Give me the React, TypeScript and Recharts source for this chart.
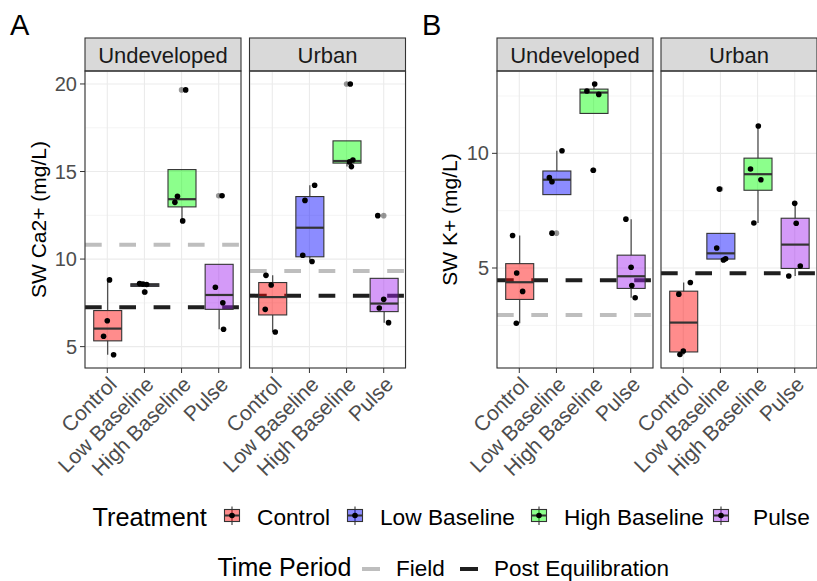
import React from 'react';
import { ComposedChart, Bar, Scatter, XAxis, YAxis, CartesianGrid, ReferenceLine } from 'recharts';

const FONT = "'Liberation Sans', Arial, Helvetica, sans-serif";

const treatments = ['Control', 'Low Baseline', 'High Baseline', 'Pulse'];
const treatmentColors = ['#FF0000', '#0000FF', '#00FF00', '#A020F0'];
const facetNames = ['Undeveloped', 'Urban'];

// Panel A: SW Ca2+ (mg/L)
const caDomain = [3.78, 20.74];
const caMajor = [5, 10, 15, 20];
const caMinor = [7.5, 12.5, 17.5];
// box stats: [lower whisker, q1, median, q3, upper whisker]
const caUndevBoxes = [
  [4.54, 5.33, 6.03, 7.06, 8.81],
  [8.44, 8.44, 8.53, 8.59, 8.6],
  [12.18, 12.98, 13.42, 15.11, 15.11],
  [5.99, 7.13, 7.95, 9.7, 9.7],
];
// points: [treatment index, jitter offset, value]
const caUndevPoints = [
  [0, 0.06, 8.81], [0, 0.0, 6.48], [0, -0.1, 5.59], [0, 0.17, 4.54],
  [1, -0.13, 8.6], [1, -0.04, 8.57], [1, 0.06, 8.55], [1, 0.01, 8.12],
  [2, 0.03, 12.18], [2, -0.18, 13.24], [2, -0.11, 13.59], [2, 0.11, 19.66],
  [3, -0.09, 8.39], [3, 0.11, 7.51], [3, 0.13, 5.99], [3, 0.09, 13.62],
];
const caUndevOutliers = [[1, 8.12], [2, 19.66], [3, 13.62]];
const caUndevField = 10.82;
const caUndevPost = 7.25;

const caUrbanBoxes = [
  [5.84, 6.81, 7.83, 8.66, 9.07],
  [9.86, 10.13, 11.79, 13.57, 14.22],
  [15.28, 15.48, 15.6, 16.75, 16.75],
  [6.37, 7.0, 7.46, 8.9, 8.9],
];
const caUrbanPoints = [
  [0, -0.17, 9.07], [0, -0.03, 8.52], [0, -0.19, 7.13], [0, 0.08, 5.84],
  [1, -0.12, 13.35], [1, 0.14, 14.22], [1, -0.18, 10.22], [1, 0.07, 9.86],
  [2, 0.17, 15.66], [2, 0.08, 15.55], [2, 0.13, 15.28], [2, 0.1, 20.0],
  [3, 0.0, 7.7], [3, -0.12, 7.21], [3, 0.13, 6.37], [3, -0.16, 12.48],
];
const caUrbanOutliers = [[2, 20.0], [3, 12.48]];
const caUrbanField = 9.32;
const caUrbanPost = 7.91;

// Panel B: SW K+ (mg/L)
const kDomain = [0.64, 13.59];
const kMajor = [5, 10];
const kMinor = [2.5, 7.5, 12.5];
const kUndevBoxes = [
  [2.59, 3.63, 4.38, 5.19, 6.42],
  [8.2, 8.2, 8.85, 9.23, 10.11],
  [11.74, 11.74, 12.65, 12.8, 13.02],
  [3.7, 4.11, 4.64, 5.56, 7.13],
];
const kUndevPoints = [
  [0, -0.18, 6.42], [0, -0.07, 4.78], [0, 0.09, 3.98], [0, -0.08, 2.59],
  [1, 0.15, 10.11], [1, -0.19, 8.94], [1, -0.12, 8.76], [1, -0.12, 6.52],
  [2, 0.03, 13.02], [2, -0.18, 12.72], [2, 0.14, 12.57], [2, -0.01, 9.26],
  [3, -0.13, 7.13], [3, 0.01, 5.03], [3, 0.03, 4.24], [3, 0.12, 3.7],
];
const kUndevOutliers = [[1, 6.52], [2, 9.26]];
const kUndevField = 2.95;
const kUndevPost = 4.47;

const kUrbanBoxes = [
  [1.23, 1.34, 2.62, 3.99, 4.37],
  [5.39, 5.39, 5.64, 6.51, 6.51],
  [6.96, 8.39, 9.09, 9.79, 11.19],
  [4.65, 4.98, 6.02, 7.17, 7.82],
];
const kUrbanPoints = [
  [0, 0.19, 4.37], [0, -0.12, 3.86], [0, 0.0, 1.38], [0, -0.09, 1.23],
  [1, -0.03, 8.44], [1, -0.1, 5.87], [1, 0.08, 5.35], [1, 0.14, 5.4],
  [2, 0.02, 11.19], [2, -0.19, 9.32], [2, 0.09, 8.85], [2, -0.1, 6.96],
  [3, 0.0, 7.82], [3, 0.04, 6.95], [3, 0.15, 5.09], [3, -0.16, 4.65],
];
const kUrbanOutliers = [[1, 8.44]];
const kUrbanField: number | null = null;
const kUrbanPost = 4.77;

const PLOT_TOP = 71;
const PLOT_H = 297;
const FACET_W = 156;
const LEFT_PAD = 112;
const RIGHT_PAD = 10;
const MARGIN_TOP = 10;
const X_AXIS_H = 30;
const MARGIN_BOTTOM = 95;
const Y_W = 60;
const X_DOMAIN = [0.4, 4.6];

const facetSpecs = [
  { left: 85, name: facetNames[0], boxes: caUndevBoxes, points: caUndevPoints, outliers: caUndevOutliers, field: caUndevField, post: caUndevPost, domain: caDomain, major: caMajor, minor: caMinor, showY: true },
  { left: 249.5, name: facetNames[1], boxes: caUrbanBoxes, points: caUrbanPoints, outliers: caUrbanOutliers, field: caUrbanField, post: caUrbanPost, domain: caDomain, major: caMajor, minor: caMinor, showY: false },
  { left: 497, name: facetNames[0], boxes: kUndevBoxes, points: kUndevPoints, outliers: kUndevOutliers, field: kUndevField, post: kUndevPost, domain: kDomain, major: kMajor, minor: kMinor, showY: true },
  { left: 661, name: facetNames[1], boxes: kUrbanBoxes, points: kUrbanPoints, outliers: kUrbanOutliers, field: kUrbanField, post: kUrbanPost, domain: kDomain, major: kMajor, minor: kMinor, showY: false },
];

const BoxShape = (props: any) => {
  const { x, y, width, height } = props;
  const p = props.payload || props;
  if (x == null || y == null || p == null) return null;
  const { lo, hi, q1, med, q3, color } = p;
  const top = Math.min(y, y + height);
  const bot = Math.max(y, y + height);
  const k = (bot - top) / (hi - lo);
  const py = (v: number) => bot - (v - lo) * k;
  const cx = x + width / 2;
  const hw = width / 2;
  return (
    <g>
      <line x1={cx} x2={cx} y1={py(hi)} y2={py(q3)} stroke="#333333" strokeWidth={1.1} />
      <line x1={cx} x2={cx} y1={py(q1)} y2={py(lo)} stroke="#333333" strokeWidth={1.1} />
      <rect x={cx - hw} y={py(q3)} width={hw * 2} height={Math.max(0, py(q1) - py(q3))} fill={color} fillOpacity={0.45} stroke="#333333" strokeWidth={1.1} />
      <line x1={cx - hw} x2={cx + hw} y1={py(med)} y2={py(med)} stroke="#333333" strokeWidth={2.2} />
    </g>
  );
};

const OutlierDot = (props: any) => {
  if (props.cx == null) return null;
  return <circle cx={props.cx} cy={props.cy} r={2.8} fill="#000000" fillOpacity={0.4} />;
};

const JitterDot = (props: any) => {
  if (props.cx == null) return null;
  return <circle cx={props.cx} cy={props.cy} r={2.8} fill="#000000" />;
};

const XTick = (props: any) => {
  const { x, y, payload } = props;
  const label = treatments[Math.round(payload.value) - 1];
  return (
    <text x={x} y={y} transform={`rotate(-45 ${x} ${y})`} textAnchor="end" dy="0.72em" fill="#4D4D4D" fontSize={21} fontFamily={FONT}>
      {label}
    </text>
  );
};

function Facet({ spec }: { spec: any }) {
  const rows = treatments.map((t, i) => {
    const [lo, q1, med, q3, hi] = spec.boxes[i];
    return { cat: t, x: i + 1, range: [lo, hi], lo, q1, med, q3, hi, color: treatmentColors[i] };
  });
  const pts = spec.points.map(([t, dx, v]: number[]) => ({ x: t + 1 + dx, y: v }));
  const outs = spec.outliers.map(([t, v]: number[]) => ({ x: t + 1, y: v }));
  const yW = spec.showY ? Y_W : 0;
  const width = LEFT_PAD + FACET_W + RIGHT_PAD;
  const height = MARGIN_TOP + PLOT_H + X_AXIS_H + MARGIN_BOTTOM;
  const bandPad = (FACET_W * 0.1) / 4.2;
  const pos = { position: 'absolute' as const, left: spec.left - LEFT_PAD, top: PLOT_TOP - MARGIN_TOP };
  return (
    <>
      {/* background layer: grid, axes, reference lines */}
      <div style={pos}>
        <ComposedChart
          width={width}
          height={height}
          data={rows}
          margin={{ top: MARGIN_TOP, right: RIGHT_PAD, bottom: MARGIN_BOTTOM, left: LEFT_PAD - yW }}
        >
          <CartesianGrid stroke="#EBEBEB" strokeWidth={1.1} />
          <XAxis
            xAxisId={0}
            type="number"
            dataKey="x"
            domain={X_DOMAIN}
            allowDataOverflow
            ticks={[1, 2, 3, 4]}
            interval={0}
            height={X_AXIS_H}
            axisLine={false}
            tickSize={5}
            tickMargin={2}
            tickLine={{ stroke: '#333333' }}
            tick={<XTick />}
          />
          <YAxis
            yAxisId={0}
            type="number"
            dataKey="y"
            domain={spec.domain}
            allowDataOverflow
            ticks={spec.major}
            interval={0}
            width={yW}
            hide={!spec.showY}
            axisLine={false}
            tickSize={5}
            tickMargin={3}
            tickLine={{ stroke: '#333333' }}
            tick={{ fill: '#4D4D4D', fontSize: 20, fontFamily: FONT }}
          />
          {spec.minor.map((v: number) => (
            <ReferenceLine key={'m' + v} y={v} stroke="#EBEBEB" strokeWidth={0.55} />
          ))}
          {spec.field != null && (
            <ReferenceLine y={spec.field} stroke="#BEBEBE" strokeWidth={4} strokeDasharray="16.7 17.6" />
          )}
          <ReferenceLine y={spec.post} stroke="#1F1F1F" strokeWidth={4} strokeDasharray="16.7 17.6" />
        </ComposedChart>
      </div>
      {/* foreground layer: boxes and points */}
      <div style={pos}>
        <ComposedChart
          width={width}
          height={height}
          data={rows}
          margin={{ top: MARGIN_TOP, right: RIGHT_PAD, bottom: MARGIN_BOTTOM + X_AXIS_H, left: LEFT_PAD }}
        >
          <XAxis xAxisId={0} type="number" dataKey="x" domain={X_DOMAIN} allowDataOverflow hide />
          <XAxis xAxisId="cat" type="category" dataKey="cat" hide padding={{ left: bandPad, right: bandPad }} />
          <YAxis yAxisId={0} type="number" dataKey="y" domain={spec.domain} allowDataOverflow hide />
          <Bar xAxisId="cat" dataKey="range" barSize={28} shape={BoxShape} isAnimationActive={false} />
          <Scatter xAxisId={0} data={outs} dataKey="y" shape={OutlierDot} isAnimationActive={false} />
          <Scatter xAxisId={0} data={pts} dataKey="y" shape={JitterDot} isAnimationActive={false} />
        </ComposedChart>
      </div>
    </>
  );
}

const legendTreatKeys = [232, 355, 539, 721];
const legendTreatLabels = [257, 380, 564, 753];
const legendLineKeys = [[362, 380], [460, 478]];
const timePeriods = ['Field', 'Post Equilibration'];
const timeColors = ['#BEBEBE', '#1F1F1F'];
const legendTimeLabels = [396, 494];

function Decor() {
  return (
    <svg width={817} height={581} style={{ position: 'absolute', left: 0, top: 0, pointerEvents: 'none' }} fontFamily={FONT}>
      {facetSpecs.map((s, i) => (
        <g key={i}>
          <rect x={s.left} y={38} width={FACET_W} height={PLOT_TOP - 38} fill="#D9D9D9" stroke="#333333" strokeWidth={1.1} />
          <text x={s.left + FACET_W / 2} y={62.5} textAnchor="middle" fontSize={22} fill="#1A1A1A">{s.name}</text>
          <rect x={s.left} y={PLOT_TOP} width={FACET_W} height={PLOT_H} fill="none" stroke="#333333" strokeWidth={1.1} />
        </g>
      ))}
      <text x={10} y={35} fontSize={29} fill="#000">A</text>
      <text x={422} y={34.5} fontSize={29} fill="#000">B</text>
      <text transform="translate(46 219.5) rotate(-90)" textAnchor="middle" fontSize={21} fill="#000">SW Ca2+ (mg/L)</text>
      <text transform="translate(457 219.5) rotate(-90)" textAnchor="middle" fontSize={21} fill="#000">SW K+ (mg/L)</text>

      <text x={92.5} y={526} fontSize={25.3} fill="#000">Treatment</text>
      {treatments.map((t, i) => {
        const cx = legendTreatKeys[i];
        return (
          <g key={t}>
            <line x1={cx} x2={cx} y1={506.5} y2={525} stroke="#333333" strokeWidth={1.1} />
            <rect x={cx - 7.5} y={509.5} width={15} height={12} fill={treatmentColors[i]} fillOpacity={0.45} stroke="#333333" strokeWidth={1.1} />
            <line x1={cx - 7.5} x2={cx + 7.5} y1={515.5} y2={515.5} stroke="#333333" strokeWidth={2} />
            <circle cx={cx} cy={515.5} r={2.8} fill="#000" />
            <text x={legendTreatLabels[i]} y={525} fontSize={22.7} fill="#000">{t}</text>
          </g>
        );
      })}

      <text x={217.5} y={576.3} fontSize={25} fill="#000">Time Period</text>
      {timePeriods.map((t, i) => (
        <g key={t}>
          <line x1={legendLineKeys[i][0]} x2={legendLineKeys[i][1]} y1={569} y2={569} stroke={timeColors[i]} strokeWidth={4} />
          <text x={legendTimeLabels[i]} y={576.3} fontSize={22.5} fill="#000">{t}</text>
        </g>
      ))}
    </svg>
  );
}

export default function App() {
  return (
    <div style={{ position: 'absolute', left: 0, top: 0, width: 817, height: 581, background: '#FFFFFF', overflow: 'hidden', fontFamily: FONT }}>
      {facetSpecs.map((s, i) => (
        <Facet key={i} spec={s} />
      ))}
      <Decor />
    </div>
  );
}
